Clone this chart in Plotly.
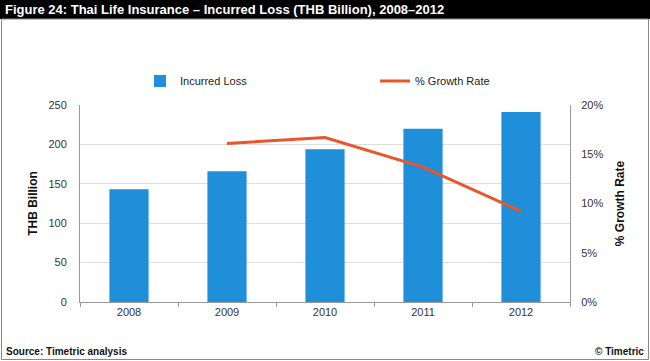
import plotly.graph_objects as go

years = ["2008", "2009", "2010", "2011", "2012"]
incurred_loss = [143, 166, 194, 220, 241]
growth_rate = [None, 0.161, 0.167, 0.137, 0.092]

W, H = 650, 361
L, R, T, B = 80, 570, 105, 302


def px_x(x):
    return (x - L) / (R - L)


def px_y(y):
    return (B - y) / (B - T)


fig = go.Figure()
fig.add_trace(go.Bar(x=years, y=incurred_loss, name="Incurred Loss",
                     marker=dict(color="#1E8FD8", line=dict(width=0)),
                     width=0.4, yaxis="y", legend="legend"))
fig.add_trace(go.Scatter(x=years, y=growth_rate, name="% Growth Rate",
                         mode="lines", line=dict(color="#E8562A", width=3),
                         yaxis="y2", legend="legend2"))

tickfont = dict(family="Liberation Sans, Arial, sans-serif", size=11, color="#333333")
legfont = dict(family="Liberation Sans, Arial, sans-serif", size=11, color="#222222")

fig.update_layout(
    width=W, height=H,
    margin=dict(l=L, r=W - R, t=T, b=H - B),
    paper_bgcolor="white", plot_bgcolor="white",
    showlegend=True,
    legend=dict(orientation="h", x=px_x(140), y=px_y(81), xanchor="left", yanchor="middle",
                itemwidth=30, font=legfont, bgcolor="rgba(0,0,0,0)"),
    legend2=dict(orientation="h", x=px_x(375), y=px_y(81), xanchor="left", yanchor="middle",
                 itemwidth=30, font=legfont, bgcolor="rgba(0,0,0,0)"),
    xaxis=dict(type="category", showgrid=False, showline=True, linecolor="#999999",
               linewidth=1, ticks="outside", tickson="boundaries", ticklen=4,
               tickcolor="#999999", tickfont=tickfont),
    yaxis=dict(range=[0, 250], dtick=50, showgrid=True, gridcolor="#DDDDDD",
               showline=True, linecolor="#999999", linewidth=1, zeroline=False,
               tickfont=tickfont, ticks="", ticklabelstandoff=10,
               title=dict(text="<b>THB Billion</b>", standoff=8,
                          font=dict(family="Liberation Sans, Arial, sans-serif", size=12, color="#111111"))),
    yaxis2=dict(range=[0, 0.2], dtick=0.05, tickformat=".0%", overlaying="y", side="right",
                showgrid=False, showline=True, linecolor="#999999", linewidth=1, zeroline=False,
                tickfont=tickfont, ticklabelstandoff=8,
                title=dict(text="<b>% Growth Rate</b>", standoff=13,
                           font=dict(family="Liberation Sans, Arial, sans-serif", size=12, color="#111111"))),
    shapes=[
        dict(type="rect", xref="paper", yref="paper", x0=px_x(0), x1=px_x(650),
             y0=px_y(19), y1=px_y(0), fillcolor="black", line=dict(width=0), layer="below"),
        dict(type="rect", xref="paper", yref="paper", x0=px_x(1.5), x1=px_x(648.5),
             y0=px_y(359.5), y1=px_y(19), fillcolor="rgba(0,0,0,0)",
             line=dict(color="#888888", width=1), layer="below"),
    ],
    annotations=[
        dict(text="<b>Figure 24: Thai Life Insurance – Incurred Loss (THB Billion), 2008–2012</b>",
             xref="paper", yref="paper", x=px_x(3), y=px_y(9.5), xanchor="left", yanchor="middle",
             showarrow=False,
             font=dict(family="Liberation Sans Narrow, Arial Narrow, Liberation Sans, sans-serif",
                       size=13, color="white")),
        dict(text="<b>Source: Timetric analysis</b>", xref="paper", yref="paper",
             x=px_x(4), y=px_y(351), xanchor="left", yanchor="middle", showarrow=False,
             font=dict(family="Liberation Sans, Arial, sans-serif", size=10, color="#111111")),
        dict(text="<b>© Timetric</b>", xref="paper", yref="paper",
             x=px_x(646), y=px_y(351), xanchor="right", yanchor="middle", showarrow=False,
             font=dict(family="Liberation Sans, Arial, sans-serif", size=10, color="#111111")),
    ],
)

fig.write_html("out.html", config={"displayModeBar": False},
               post_script="document.body.style.margin='0';document.body.style.overflow='hidden';")
